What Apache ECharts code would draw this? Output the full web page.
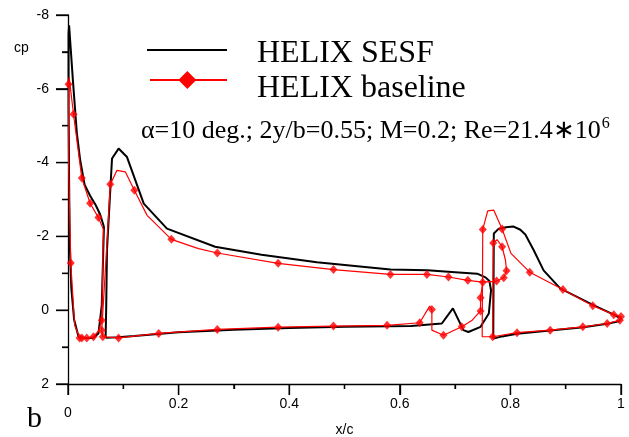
<!DOCTYPE html>
<html>
<head>
<meta charset="utf-8">
<script src="https://cdn.jsdelivr.net/npm/echarts@6/dist/echarts.min.js"></script>
<style>
html,body{margin:0;padding:0;background:#fff;}
#c{width:629px;height:437px;}
</style>
</head>
<body>
<div id="c"></div>
<script>
// ---- data: [x/c, cp] ----
var sesfSlat = [
  [0.065,-2.26],[0.058,-2.60],[0.050,-2.85],[0.040,-3.10],[0.030,-3.40],[0.022,-4.07],[0.016,-4.80],
  [0.009,-6.20],[0.002,-7.72],[0.001,-7.50],[0.001,-5.50],[0.002,-3.50],[0.003,-1.90],[0.006,-0.60],
  [0.011,0.25],[0.019,0.72],[0.030,0.75],[0.046,0.75],[0.055,0.63],[0.058,0.27],[0.061,-0.13],
  [0.063,-1.20],[0.065,-2.26]
];
var sesfMain = [
  [0.068,0.75],[0.069,0.00],[0.0705,-1.63],[0.0796,-4.11],[0.0915,-4.38],[0.1067,-4.15],[0.137,-2.89],
  [0.179,-2.21],[0.266,-1.72],[0.35,-1.50],[0.45,-1.30],[0.583,-1.10],[0.65,-1.08],[0.70,-1.03],
  [0.74,-0.99],[0.755,-0.89],[0.762,-0.79],[0.765,-0.54],[0.761,0.09],[0.746,0.45],[0.724,0.59],
  [0.715,0.54],[0.696,-0.05],[0.676,0.36],[0.62,0.43],[0.50,0.45],[0.40,0.48],[0.30,0.53],
  [0.20,0.60],[0.12,0.70],[0.09,0.73],[0.068,0.75]
];
var sesfFlap = [
  [0.769,0.77],[0.770,-2.08],[0.779,-2.21],[0.792,-2.25],[0.805,-2.27],[0.818,-2.18],[0.827,-2.05],
  [0.842,-1.63],[0.860,-1.08],[0.890,-0.59],[0.950,-0.14],[0.987,0.12],[1.000,0.23],[0.996,0.30],
  [0.975,0.37],[0.932,0.46],[0.872,0.55],[0.812,0.64],[0.785,0.71],[0.769,0.77]
];
var baseSlat = [
  [0.064,-2.19],[0.055,-2.51],[0.040,-2.90],[0.025,-3.58],[0.010,-5.31],[0.002,-6.32],[0.001,-6.12],
  [0.001,-4.00],[0.005,-1.28],[0.012,0.40],[0.021,0.75],[0.025,0.75],[0.034,0.75],[0.046,0.72],
  [0.056,0.55],[0.061,0.27],[0.064,-2.19]
];
var baseMain = [
  [0.061,0.54],[0.068,-1.20],[0.0765,-3.41],[0.0886,-3.79],[0.1036,-3.75],[0.120,-3.25],[0.143,-2.57],
  [0.187,-1.92],[0.236,-1.67],[0.27,-1.55],[0.38,-1.27],[0.48,-1.10],[0.583,-0.97],[0.649,-0.97],
  [0.688,-0.90],[0.723,-0.81],[0.750,-0.76],[0.746,-0.34],[0.746,0.02],[0.731,0.27],[0.712,0.45],
  [0.679,0.68],[0.658,0.54],[0.658,-0.02],[0.654,-0.11],[0.636,0.34],[0.577,0.41],[0.48,0.43],
  [0.38,0.46],[0.27,0.52],[0.164,0.63],[0.0915,0.75],[0.063,0.72],[0.061,0.54]
];
var baseFlap = [
  [0.750,-0.76],[0.775,-0.79],[0.788,-0.88],[0.793,-1.07],[0.791,-1.36],[0.785,-1.72],[0.776,-1.91],
  [0.769,-1.82],[0.768,0.72],[0.812,0.61],[0.872,0.54],[0.931,0.45],[0.975,0.36],[0.998,0.27],
  [1.000,0.17],[0.987,0.12],[0.949,-0.12],[0.895,-0.56],[0.835,-1.03],[0.801,-1.54],[0.785,-2.20],
  [0.770,-2.71],[0.759,-2.69],[0.750,-2.19],[0.749,0.72],[0.768,0.72]
];
var baseMarkers = [
  [0.001,-6.12],[0.010,-5.31],[0.025,-3.58],[0.040,-2.90],[0.055,-2.51],[0.005,-1.28],[0.021,0.75],
  [0.025,0.75],[0.034,0.75],[0.046,0.72],[0.061,0.27],[0.061,0.54],[0.063,0.72],[0.0915,0.75],
  [0.164,0.63],[0.27,0.52],[0.38,0.46],[0.48,0.43],[0.577,0.41],[0.636,0.34],[0.658,-0.02],
  [0.679,0.68],[0.712,0.45],[0.746,0.02],[0.746,-0.34],[0.0765,-3.41],[0.120,-3.25],[0.187,-1.92],
  [0.27,-1.55],[0.38,-1.27],[0.48,-1.10],[0.583,-0.97],[0.649,-0.97],[0.688,-0.90],[0.723,-0.81],
  [0.750,-0.76],[0.775,-0.79],[0.788,-0.88],[0.793,-1.07],[0.785,-1.72],[0.769,-1.82],[0.768,0.72],
  [0.812,0.61],[0.872,0.54],[0.931,0.45],[0.975,0.36],[0.998,0.27],[1.000,0.17],[0.987,0.12],
  [0.949,-0.12],[0.895,-0.56],[0.835,-1.03],[0.785,-2.20],[0.750,-2.19]
];
var xTicks = [0, 0.2, 0.4, 0.6, 0.8, 1];
var yTicks = [-8, -6, -4, -2, 0, 2];
var xMinorTicks = [0.1, 0.3, 0.5, 0.7, 0.9];
var yMinorTicks = [-7, -5, -3, -1, 1];
var legendNames = ['HELIX SESF', 'HELIX baseline'];
var subtitle = 'α=10 deg.; 2y/b=0.55; M=0.2; Re=21.4∗10';
var subtitleSup = '6';

var sans = 'Liberation Sans, Arial, sans-serif';
var serif = 'Liberation Serif, Times New Roman, serif';

function lineSeries(name, data, color, width, z) {
  return {
    name: name, type: 'line', data: data, symbol: 'none', showSymbol: false,
    lineStyle: {color: color, width: width}, itemStyle: {color: color},
    z: z, animation: false, silent: true, clip: false
  };
}

var baseGraphic = [
  {type: 'text', left: 14, top: 41, style: {text: 'cp', fontFamily: sans, fontSize: 14, fill: '#000'}},
  {type: 'text', left: 27, top: 404, style: {text: 'b', fontFamily: serif, fontSize: 30, fill: '#000'}},
  {type: 'line', shape: {x1: 147, y1: 50, x2: 227, y2: 50}, style: {stroke: '#000', lineWidth: 2.2}},
  {type: 'text', left: 257, top: 38, style: {text: legendNames[0], fontFamily: serif, fontSize: 32, fill: '#000'}},
  {type: 'line', shape: {x1: 150, y1: 80, x2: 227, y2: 80}, style: {stroke: '#ff0000', lineWidth: 2.2}},
  {type: 'polygon', shape: {points: [[187.3, 71], [196.3, 80], [187.3, 89], [178.3, 80]]}, style: {fill: '#ff0000'}},
  {type: 'text', left: 257, top: 73, style: {text: legendNames[1], fontFamily: serif, fontSize: 32, fill: '#000'}}
];

var option = {
  animation: false,
  grid: {left: 68, right: 8, top: 15, bottom: 53, outerBoundsMode: 'none'},
  xAxis: {
    type: 'value', min: xTicks[0], max: xTicks[xTicks.length - 1], interval: 0.2,
    name: 'x/c', nameLocation: 'middle', nameGap: 39, nameMoveOverlap: false,
    nameTextStyle: {fontFamily: sans, fontSize: 14, color: '#000'},
    axisLine: {show: true, onZero: false, lineStyle: {color: '#000', width: 1.3}},
    axisTick: {show: true, inside: false, length: 11, lineStyle: {color: '#000', width: 1.3}},
    minorTick: {show: true, splitNumber: 2, length: 5, lineStyle: {color: '#000', width: 1.3}},
    axisLabel: {
      fontFamily: sans, fontSize: 14, color: '#000', margin: 13,
      formatter: function (v) { return v === 0 ? '{z|0}' : String(v); },
      rich: {z: {fontFamily: sans, fontSize: 14, color: '#000', padding: [9, 0, 0, 0]}}
    },
    splitLine: {show: false}
  },
  yAxis: {
    type: 'value', min: yTicks[0], max: yTicks[yTicks.length - 1], interval: 2, inverse: true,
    axisLine: {show: true, onZero: false, lineStyle: {color: '#000', width: 1.3}},
    axisTick: {show: true, inside: false, length: 12, lineStyle: {color: '#000', width: 1.3}},
    minorTick: {show: true, splitNumber: 2, length: 6, lineStyle: {color: '#000', width: 1.3}},
    axisLabel: {fontFamily: sans, fontSize: 14, color: '#000', margin: 19},
    splitLine: {show: false}
  },
  title: {
    text: '{a|' + subtitle + '}{s|' + subtitleSup + '}',
    left: 136, top: 111,
    textStyle: {
      fontWeight: 'normal',
      rich: {
        a: {fontFamily: serif, fontSize: 26, fontWeight: 'normal', color: '#000', lineHeight: 30},
        s: {fontFamily: serif, fontSize: 16, fontWeight: 'normal', color: '#000', verticalAlign: 'top', lineHeight: 30, padding: [0, 0, 12, 1]}
      }
    }
  },
  graphic: baseGraphic,
  series: [
    lineSeries(legendNames[0], sesfSlat, '#000', 2, 2),
    lineSeries(legendNames[0], sesfMain, '#000', 2, 2),
    lineSeries(legendNames[0], sesfFlap, '#000', 2, 2),
    lineSeries(legendNames[1], baseSlat, '#ff0000', 1.2, 3),
    lineSeries(legendNames[1], baseMain, '#ff0000', 1.2, 3),
    lineSeries(legendNames[1], baseFlap, '#ff0000', 1.2, 3),
    {
      name: legendNames[1], type: 'scatter', data: baseMarkers, symbol: 'diamond', symbolSize: [8, 9],
      itemStyle: {color: '#ff0000'}, z: 4, silent: true, animation: false
    }
  ]
};
var chart = echarts.init(document.getElementById('c'));
chart.setOption(option);

// tick marks placed through the axes' own scale (convertToPixel)
var tickEls = [];
var finder = {xAxisIndex: 0, yAxisIndex: 0};
var yBase = yTicks[yTicks.length - 1];
var xBase = xTicks[0];
function addTick(x1, y1, x2, y2) {
  tickEls.push({type: 'line', silent: true, z: 10,
    shape: {x1: x1, y1: y1, x2: x2, y2: y2},
    style: {stroke: '#000', lineWidth: 1.3}});
}
yTicks.forEach(function (v) { var p = chart.convertToPixel(finder, [xBase, v]); addTick(p[0] - 12, p[1], p[0], p[1]); });
yMinorTicks.forEach(function (v) { var p = chart.convertToPixel(finder, [xBase, v]); addTick(p[0] - 6, p[1], p[0], p[1]); });
xTicks.forEach(function (v) { var p = chart.convertToPixel(finder, [v, yBase]); addTick(p[0], p[1], p[0], p[1] + 11); });
xMinorTicks.forEach(function (v) { var p = chart.convertToPixel(finder, [v, yBase]); addTick(p[0], p[1], p[0], p[1] + 5); });
chart.setOption({graphic: baseGraphic.concat(tickEls)});
</script>
</body>
</html>
